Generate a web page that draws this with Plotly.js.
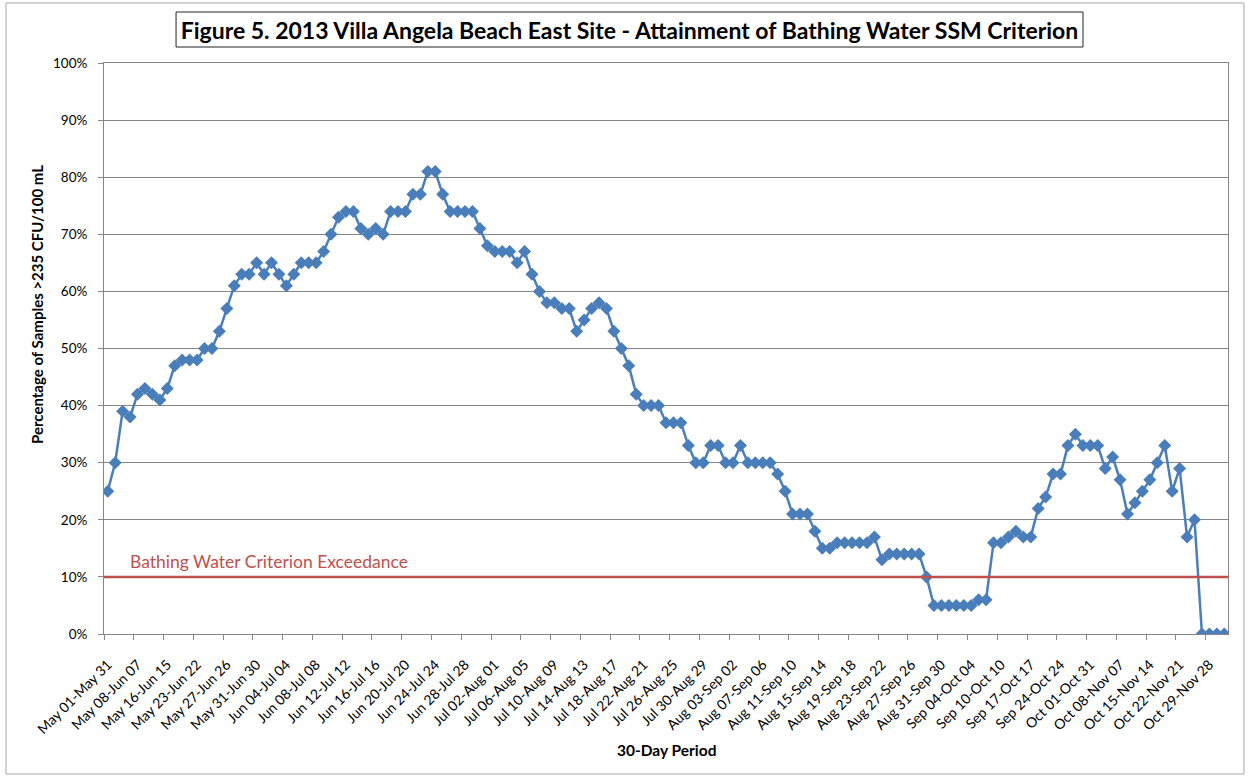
<!DOCTYPE html>
<html>
<head>
<meta charset="utf-8">
<script src="https://cdn.plot.ly/plotly-3.0.1.min.js"></script>
<style>html,body{margin:0;padding:0;background:#fff;}#chart{width:1250px;height:777px;}</style>
</head>
<body>
<div id="chart"></div>
<script>
// Tick labels (every 4th 30-day period is labelled in the original)
var periodLabels = ["May 01-May 31","May 08-Jun 07","May 16-Jun 15","May 23-Jun 22","May 27-Jun 26","May 31-Jun 30",
  "Jun 04-Jul 04","Jun 08-Jul 08","Jun 12-Jul 12","Jun 16-Jul 16","Jun 20-Jul 20","Jun 24-Jul 24","Jun 28-Jul 28",
  "Jul 02-Aug 01","Jul 06-Aug 05","Jul 10-Aug 09","Jul 14-Aug 13","Jul 18-Aug 17","Jul 22-Aug 21","Jul 26-Aug 25",
  "Jul 30-Aug 29","Aug 03-Sep 02","Aug 07-Sep 06","Aug 11-Sep 10","Aug 15-Sep 14","Aug 19-Sep 18","Aug 23-Sep 22",
  "Aug 27-Sep 26","Aug 31-Sep 30","Sep 04-Oct 04","Sep 10-Oct 10","Sep 17-Oct 17","Sep 24-Oct 24","Oct 01-Oct 31",
  "Oct 08-Nov 07","Oct 15-Nov 14","Oct 22-Nov 21","Oct 29-Nov 28"];
var labelEvery = 4;

// Percentage of samples > 235 CFU/100 mL for each 30-day period (in order)
var pctExceed = [
  25,30,39,38,42,43,42,41,43,47,48,48,48,50,50,53,57,61,63,63,65,63,65,63,61,63,
  65,65,65,67,70,73,74,74,71,70,71,70,74,74,74,77,77,81,81,77,74,74,74,74,71,
  68,67,67,67,65,67,63,60,58,58,57,57,53,55,57,58,57,53,50,47,42,40,40,40,37,37,
  37,33,30,30,33,33,30,30,33,30,30,30,30,28,25,21,21,21,18,15,15,16,16,16,16,
  16,17,13,14,14,14,14,14,10,5,5,5,5,5,5,6,6,16,16,17,18,17,17,22,24,28,
  28,33,35,33,33,33,29,31,27,21,23,25,27,30,33,25,29,17,20,0,0,0,0];

var criterionPct = 10;
var criterionLabel = "Bathing Water Criterion Exceedance";
var yTicks = [0,10,20,30,40,50,60,70,80,90,100];

var periodIndex = pctExceed.map(function(_, i){ return i; });
var labelPositions = periodLabels.map(function(_, i){ return i * labelEvery; });

var FONT = "Lato, 'Open Sans', sans-serif";
var GRAY = "#868686";

var trace = {
  x: periodIndex,
  y: pctExceed,
  type: "scatter",
  mode: "lines+markers",
  line: {color: "#4A7EBB", width: 2.5},
  marker: {symbol: "diamond", size: 10, color: "#4A7EBB", line: {width: 0}},
  hoverinfo: "y",
  showlegend: false
};

var layout = {
  width: 1250, height: 777,
  margin: {l: 104, r: 22, t: 63, b: 143},
  paper_bgcolor: "#fff", plot_bgcolor: "#fff",
  font: {family: FONT, size: 13, color: "#000"},
  showlegend: false,
  title: {
    text: "<b>Figure 5. 2013 Villa Angela Beach East Site - Attainment of Bathing Water SSM Criterion</b>",
    font: {family: FONT, size: 23, color: "#000"},
    xref: "container", x: 0.5036, xanchor: "center",
    yref: "container", y: 0.9601, yanchor: "middle"
  },
  xaxis: {
    range: [-0.5, pctExceed.length - 0.5],
    tickmode: "array",
    tickvals: labelPositions,
    ticktext: periodLabels,
    tickangle: -45,
    ticks: "",
    ticklabelstandoff: 16,
    tickfont: {family: FONT, size: 14, color: "#000"},
    showgrid: false, zeroline: false,
    showline: true, linecolor: GRAY, linewidth: 1, mirror: true,
    minor: {tickmode: "linear", tick0: -0.5, dtick: labelEvery, ticks: "outside", ticklen: 5, tickcolor: GRAY, showgrid: false},
    fixedrange: true
  },
  yaxis: {
    range: [0, 100],
    tickmode: "array",
    tickvals: yTicks,
    ticktext: yTicks.map(function(v){ return v + "%"; }),
    ticks: "outside", ticklen: 5, tickcolor: GRAY,
    ticklabelstandoff: 8,
    tickfont: {family: FONT, size: 13.5, color: "#000"},
    showgrid: true, gridcolor: GRAY, gridwidth: 1,
    zeroline: false,
    showline: true, linecolor: GRAY, linewidth: 1, mirror: true,
    fixedrange: true
  },
  shapes: [
    {type: "line", xref: "paper", yref: "y", x0: 0, x1: 1, y0: criterionPct, y1: criterionPct,
     line: {color: "#C0504D", width: 2.5}, layer: "above"},
    {type: "rect", xref: "paper", yref: "paper", x0: 0.0641, x1: 0.871, y0: 1.028, y1: 1.0893,
     line: {color: "#222", width: 1}, fillcolor: "rgba(0,0,0,0)"},
    {type: "rect", xref: "paper", yref: "paper", x0: -0.0872, x1: 1.0142, y0: -0.2452, y1: 1.1051,
     line: {color: "#a6a6a6", width: 1}, fillcolor: "rgba(0,0,0,0)"}
  ],
  annotations: [
    {text: criterionLabel, xref: "paper", yref: "y", x: 0.0214, y: 12.66, xanchor: "left", yanchor: "middle",
     showarrow: false, font: {family: FONT, size: 17.5, color: "#C0504D"}},
    {text: "<b>Percentage of Samples >235 CFU/100 mL</b>", xref: "paper", yref: "paper",
     x: (37 - 104) / 1124, y: (634 - 305) / 571, xanchor: "center", yanchor: "middle",
     textangle: -90, showarrow: false, font: {family: FONT, size: 15, color: "#000"}},
    {text: "<b>30-Day Period</b>", xref: "paper", yref: "paper",
     x: 0.5, y: (634 - 750) / 571, xanchor: "center", yanchor: "middle",
     showarrow: false, font: {family: FONT, size: 15.5, color: "#000"}}
  ]
};

Plotly.newPlot("chart", [trace], layout, {displayModeBar: false, staticPlot: true});
</script>
</body>
</html>
